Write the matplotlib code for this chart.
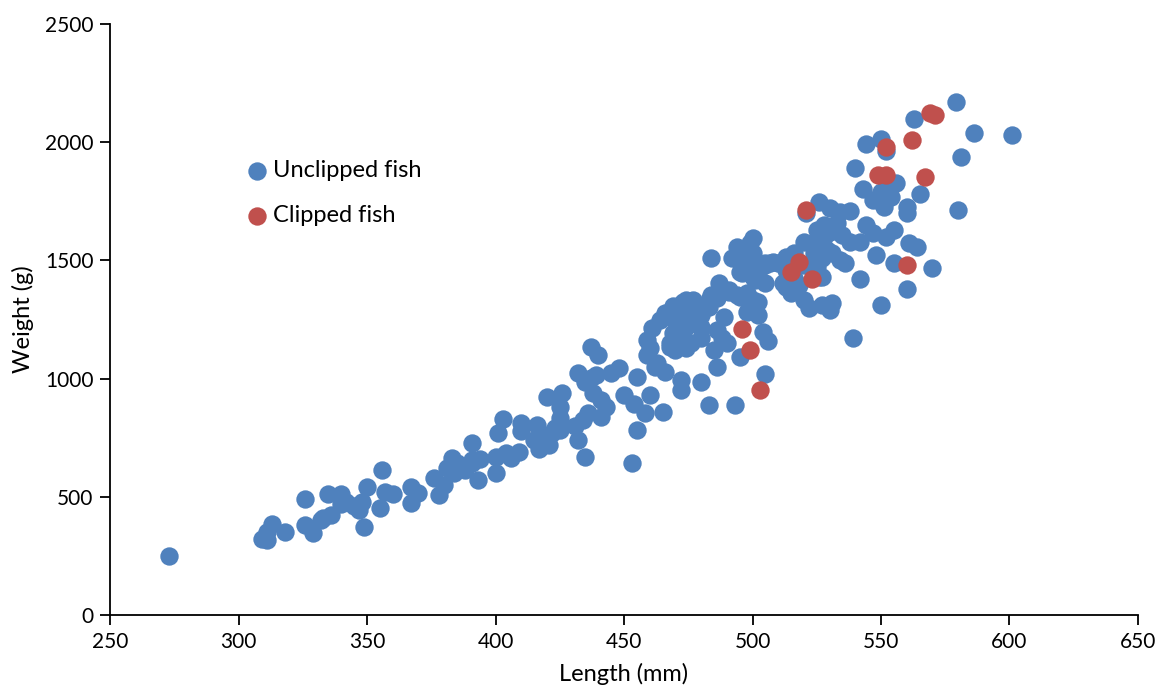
import numpy as np
import matplotlib.pyplot as plt

# ── Data (length in mm, weight in g) ──────────────────────────────────────
unclipped_length = [
    273, 309, 311, 311, 313, 318, 326, 326, 329, 333, 336, 332, 335, 340, 340,
    342, 345, 347, 348, 349, 350, 356, 357, 360, 355, 367, 370, 367, 376, 378,
    380, 383, 381, 385, 384, 388, 391, 393, 391,
    391, 394, 401, 403, 400, 404, 406, 409, 400, 410, 410, 416, 415, 417, 420,
    422, 425, 417, 421, 420, 420, 426, 425, 425, 423, 431, 434, 436, 432, 435,
    432, 435, 437, 439, 437, 440, 438, 441, 443, 441, 445, 448, 450, 454, 455,
    460, 458, 455, 465, 453,
    466, 469, 474, 477, 473, 480, 483, 474, 476, 474, 464, 470, 473, 461, 459,
    460, 459, 463, 466, 462, 469, 472, 476, 474, 470, 468, 470, 468, 480, 480,
    480, 486, 489, 488, 490, 485, 486, 495, 504, 506, 505, 472, 472, 480, 483,
    493, 484, 486, 483, 491, 494, 498, 500, 502, 498, 484, 487, 491, 495, 502,
    487, 496, 499, 503, 505, 508, 510, 505, 494, 499, 500, 492, 496, 500, 501,
    495, 500, 505, 501, 513, 516, 518, 515, 513, 516, 512, 515, 520, 525, 528,
    533, 544, 547, 552, 555, 524, 527, 529, 531, 534, 536, 527, 542, 548, 555,
    520, 522, 527, 530, 531, 550, 539, 507, 512, 516, 520, 525, 526, 513, 515,
    530, 527, 535, 538, 542, 526, 530, 534, 538, 528, 525, 561, 564, 570, 560,
    521, 579, 563, 586, 601, 581, 544, 550, 552, 540, 543, 556, 565, 547, 551,
    554, 550, 552, 560, 560, 580,
]
unclipped_weight = [
    250, 320, 317, 352, 385, 350, 491, 381, 348, 412, 423, 402, 512, 512, 470,
    479, 461, 444, 479, 371, 540, 612, 521, 512, 451, 543, 515, 472, 580, 508,
    550, 662, 620, 642, 599, 613, 642, 571, 729,
    656, 661, 771, 830, 670, 684, 663, 691, 599, 811, 778, 802, 740, 747, 754,
    769, 783, 700, 720, 726, 923, 940, 881, 835, 790, 800, 825, 853, 740, 670,
    1022, 985, 1001, 1015, 1133, 1098, 940, 909, 881, 839, 1025, 1044, 931, 893, 1008,
    931, 853, 783, 860, 642,
    1276, 1308, 1332, 1332, 1325, 1290, 1304, 1276, 1241, 1220, 1248, 1248, 1262, 1213, 1163,
    1128, 1100, 1065, 1029, 1050, 1192, 1178, 1149, 1128, 1121, 1135, 1163, 1149, 1220, 1170,
    1269, 1206, 1262, 1170, 1149, 1121, 1050, 1093, 1198, 1160, 1019, 994, 952, 987, 888,
    888, 1509, 1339, 1332, 1375, 1354, 1361, 1332, 1269, 1283, 1353, 1375, 1368, 1346, 1325,
    1403, 1445, 1459, 1467, 1488, 1495, 1488, 1403, 1558, 1572, 1593, 1509, 1523, 1530, 1488,
    1452, 1431, 1481, 1417, 1459, 1424, 1396, 1368, 1516, 1530, 1403, 1375, 1579, 1629, 1650,
    1657, 1650, 1615, 1600, 1629, 1530, 1509, 1544, 1530, 1502, 1490, 1431, 1420, 1523, 1490,
    1332, 1297, 1311, 1290, 1318, 1311, 1170, 1488, 1495, 1467, 1481, 1473, 1431, 1389, 1361,
    1621, 1586, 1607, 1579, 1579, 1748, 1720, 1706, 1709, 1600, 1572, 1572, 1558, 1469, 1379,
    1700, 2171, 2100, 2040, 2030, 1939, 1991, 2012, 1964, 1889, 1800, 1829, 1780, 1756, 1727,
    1770, 1791, 1840, 1727, 1699, 1711,
]

clipped_length = [571, 569, 552, 562, 549, 552, 567, 521, 518, 515, 523, 560, 496, 499, 503]
clipped_weight = [2115, 2122, 1980, 2010, 1860, 1860, 1853, 1712, 1493, 1451, 1421, 1481, 1210, 1121, 952]

BLUE = "#4F81BD"
RED = "#C0504D"

plt.rcParams["font.family"] = ["Lato", "DejaVu Sans"]

fig = plt.figure(figsize=(11.63, 6.93), dpi=100)
ax = fig.add_axes([0.0946, 0.1126, 0.8839, 0.8528])

ax.scatter(unclipped_length, unclipped_weight, s=175, color=BLUE, linewidths=0,
           label="Unclipped fish", zorder=2)
ax.scatter(clipped_length, clipped_weight, s=175, color=RED, linewidths=0,
           label="Clipped fish", zorder=3)

ax.set_xlim(250, 650)
ax.set_ylim(0, 2500)
ax.set_xticks(np.arange(250, 651, 50))
ax.set_yticks(np.arange(0, 2501, 500))

for side in ("top", "right"):
    ax.spines[side].set_visible(False)
for side in ("left", "bottom"):
    ax.spines[side].set_linewidth(1.3)
    ax.spines[side].set_color("black")

ax.tick_params(direction="out", length=7, width=1.3, labelsize=15, pad=5)
ax.set_xlabel("Length (mm)", fontsize=17, labelpad=8)
ax.set_ylabel("Weight (g)", fontsize=17, labelpad=8)

ax.legend(loc="upper left", bbox_to_anchor=(0.125, 0.785), frameon=False,
          fontsize=17, handlelength=0.8, handletextpad=0.25, labelspacing=1.0,
          borderaxespad=0)

fig.savefig("out.png", dpi=100)
